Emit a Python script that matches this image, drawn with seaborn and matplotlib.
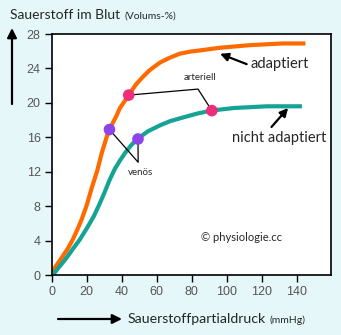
import matplotlib
matplotlib.use("Agg")
import matplotlib.pyplot as plt
import seaborn as sns
import pandas as pd

# ---- data ----
adapt_x = [0, 6, 9, 12, 14.5, 17, 20, 23, 26, 28.5, 31.5, 33, 37, 39, 44, 48, 52, 56, 62, 67, 73, 79, 85, 96, 113, 132, 145]
adapt_y = [0.3, 2.1, 3.0, 4.1, 5.2, 6.4, 8.1, 10.2, 12.1, 14.1, 16.1, 16.9, 18.5, 19.4, 20.9, 22.1, 23.0, 23.8, 24.7, 25.2, 25.7, 25.95, 26.1, 26.4, 26.7, 26.9, 26.9]
nonad_x = [1, 8.5, 12, 16, 20, 24, 27, 30, 33, 36, 39, 42, 45.5, 49, 55, 62, 68, 75, 83, 91, 104, 123, 143]
nonad_y = [0.1, 2.0, 3.0, 4.1, 5.4, 6.8, 8.1, 9.5, 11.0, 12.3, 13.3, 14.2, 15.1, 15.8, 16.7, 17.4, 17.9, 18.3, 18.75, 19.1, 19.4, 19.6, 19.6]
art_x = [44, 91.5]
art_y = [20.9, 19.1]
ven_x = [33, 49.3]
ven_y = [16.9, 15.8]
x_ticks = [0, 20, 40, 60, 80, 100, 120, 140]
y_ticks = [0, 4, 8, 12, 16, 20, 24, 28]

ORANGE = "#FF6A00"
TEAL = "#14A394"
PINK = "#EE2E7B"
PURPLE = "#8C44E8"
BG = "#E6F7FA"

sns.set_theme(style="white")
plt.rcParams["font.family"] = ["Lato", "DejaVu Sans"]

W, H = 341, 335
fig = plt.figure(figsize=(W / 100, H / 100), dpi=100, facecolor=BG)
ax = fig.add_axes([51.7 / W, 1 - 275 / H, (331 - 51.7) / W, (275 - 34) / H])
ax.set_facecolor("white")

d1 = pd.DataFrame({"x": adapt_x, "y": adapt_y})
d2 = pd.DataFrame({"x": nonad_x, "y": nonad_y})
sns.lineplot(data=d1, x="x", y="y", ax=ax, color=ORANGE, lw=3, sort=False,
             solid_capstyle="butt", solid_joinstyle="round")
sns.lineplot(data=d2, x="x", y="y", ax=ax, color=TEAL, lw=3, sort=False,
             solid_capstyle="butt", solid_joinstyle="round")

# connector lines
ax.plot([art_x[0], 83.6, art_x[1]], [art_y[0], 21.6, art_y[1]], color="black", lw=0.9, zorder=3)
ax.plot([ven_x[0], 49.4, ven_x[1]], [ven_y[0], 13.1, ven_y[1]], color="black", lw=0.9, zorder=3)

sns.scatterplot(x=art_x, y=art_y, ax=ax, color=PINK, s=70, edgecolor="none", zorder=4)
sns.scatterplot(x=ven_x, y=ven_y, ax=ax, color=PURPLE, s=70, edgecolor="none", zorder=4)

ax.text(84.6, 22.4, "arteriell", fontsize=7, ha="center", va="bottom")
ax.text(50.8, 11.9, "venös", fontsize=7, ha="center", va="center")
ax.text(130, 24.0, "adaptiert", fontsize=10.5, ha="center", va="baseline")
ax.text(130, 15.5, "nicht adaptiert", fontsize=10.5, ha="center", va="baseline")
ax.text(108.4, 4.4, "© physiologie.cc", fontsize=8, ha="center", va="center")

arrow_kw = dict(arrowstyle="-|>", color="black", lw=1.6, mutation_scale=12, shrinkA=0, shrinkB=0)
ax.annotate("", xy=(96.2, 25.7), xytext=(111.4, 24.5), arrowprops=arrow_kw)
ax.annotate("", xy=(135.1, 19.4), xytext=(125.6, 17.2), arrowprops=arrow_kw)

ax.set_xlim(0, 159.6)
ax.set_ylim(0, 28)
ax.set_xticks(x_ticks)
ax.set_yticks(y_ticks)
ax.set_xticklabels([str(v) for v in x_ticks])
ax.set_yticklabels([str(v) for v in y_ticks])
for lab in ax.get_xticklabels() + ax.get_yticklabels():
    lab.set_fontfamily(["Liberation Sans", "DejaVu Sans"])
ax.tick_params(axis="both", which="both", direction="out", length=5, width=1,
               color="black", labelsize=9, labelcolor="#555555", pad=3,
               bottom=True, left=True)
ax.set_xlabel("")
ax.set_ylabel("")
for s in ax.spines.values():
    s.set_visible(True)
    s.set_color("black")
    s.set_linewidth(1.2)

# axis titles in figure space
ty = fig.text(10 / W, 1 - 19 / H, "Sauerstoff im Blut", fontsize=10, ha="left", va="baseline")
ax.annotate("(Volums-%)", xy=(1, 0), xycoords=ty, xytext=(3, 0), textcoords="offset points",
            fontsize=7.5, ha="left", va="bottom", annotation_clip=False)
tx = fig.text(128 / W, 1 - 323 / H, "Sauerstoffpartialdruck", fontsize=10.2, ha="left", va="baseline")
ax.annotate("(mmHg)", xy=(1, 0), xycoords=tx, xytext=(2.5, 0), textcoords="offset points",
            fontsize=7.5, ha="left", va="bottom", annotation_clip=False)

big_arrow = dict(arrowstyle="-|>", color="black", lw=1.6, mutation_scale=14, shrinkA=0, shrinkB=0)
fig.add_artist(matplotlib.patches.FancyArrowPatch((12 / W, 1 - 104 / H), (12 / W, 1 - 28 / H),
                                                  transform=fig.transFigure, **big_arrow))
fig.add_artist(matplotlib.patches.FancyArrowPatch((58 / W, 1 - 319 / H), (122 / W, 1 - 319 / H),
                                                  transform=fig.transFigure, **big_arrow))

fig.savefig("out.png", dpi=100, facecolor=BG)
